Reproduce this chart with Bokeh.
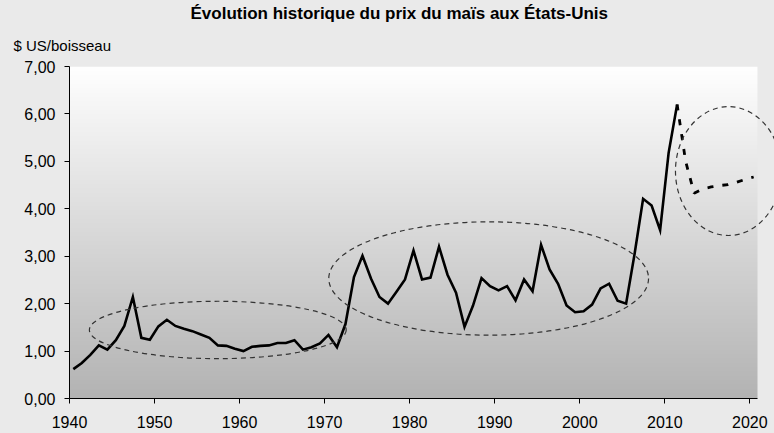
import numpy as np
import pandas as pd
from bokeh.plotting import figure
from bokeh.models import (ColumnDataSource, FixedTicker, CustomJSTickFormatter, Title,
                          Range1d, GlobalInlineStyleSheet)
from bokeh.embed import file_html
from bokeh.resources import INLINE

# ---------------- data ----------------
years = list(range(1940, 2012))
price = [0.62, 0.75, 0.92, 1.12, 1.03, 1.23, 1.53, 2.14, 1.28, 1.24,
         1.52, 1.66, 1.53, 1.47, 1.42, 1.35, 1.28, 1.12, 1.11, 1.05,
         1.00, 1.09, 1.11, 1.12, 1.17, 1.17, 1.23, 1.03, 1.08, 1.16,
         1.34, 1.08, 1.57, 2.56, 3.01, 2.53, 2.14, 2.00, 2.25, 2.51,
         3.12, 2.51, 2.55, 3.20, 2.61, 2.23, 1.51, 1.96, 2.54, 2.37,
         2.28, 2.37, 2.07, 2.51, 2.26, 3.24, 2.72, 2.42, 1.96, 1.82,
         1.84, 1.98, 2.32, 2.42, 2.06, 2.00, 3.05, 4.21, 4.07, 3.55,
         5.18, 6.20]
proj_years = list(range(2011, 2021))
proj_price = [6.20, 5.00, 4.33, 4.42, 4.46, 4.49, 4.51, 4.56, 4.62, 4.67]

x_ticks = [1940, 1950, 1960, 1970, 1980, 1990, 2000, 2010, 2020]
y_ticks = [0, 1, 2, 3, 4, 5, 6, 7]

title_text = "Évolution historique du prix du maïs aux États-Unis"
unit_text = "$ US/boisseau"

# annotation ellipses (centre x, centre y, width in years, height in $)
ell_x = [1957.44, 1989.29, 2017.49]
ell_y = [1.445, 2.53, 4.795]
ell_w = [30.2, 37.6, 12.47]
ell_h = [1.21, 2.39, 2.72]

# ---------------- styling ----------------
FONT = "Liberation Sans"
BG = "#eaeaea"
MID = 0.45  # points sit near mid-year

hist = pd.DataFrame({"year": years, "price": price})
hist["x"] = hist["year"] + MID
proj = pd.DataFrame({"year": proj_years, "price": proj_price})
proj["x"] = proj["year"] + MID
ell = pd.DataFrame({"x": ell_x, "y": ell_y, "w": ell_w, "h": ell_h})

p = figure(width=774, height=433, output_backend="svg", toolbar_location=None,
           x_range=Range1d(1940, 2022.9), y_range=Range1d(0, 7),
           min_border_left=69, min_border_right=0, min_border_bottom=35,
           min_border_top=66)
p.stylesheets = [GlobalInlineStyleSheet(css="html, body { background-color: #eaeaea; }")]
p.background_fill_color = BG
p.border_fill_color = BG
p.outline_line_color = None
p.grid.visible = False

# gradient plot area
n = 256
vals = np.linspace(0xb3, 0xff, n).astype(np.uint8)
img = np.zeros((n, 1), dtype=np.uint32)
view = img.view(dtype=np.uint8).reshape((n, 1, 4))
view[:, 0, 0] = vals
view[:, 0, 1] = vals
view[:, 0, 2] = vals
view[:, 0, 3] = 255
p.image_rgba(image=[img], x=1940, y=0, dw=80.9, dh=7)

p.line("x", "price", source=ColumnDataSource(hist), line_color="black", line_width=2.6,
       line_join="miter")
p.line("x", "price", source=ColumnDataSource(proj), line_color="black", line_width=2.8,
       line_dash="6 9")

p.ellipse("x", "y", width="w", height="h", source=ColumnDataSource(ell),
          fill_color=None, line_color="#333333", line_width=1.2, line_dash="5 4")

# axes
xa = p.xaxis[0]
xa.ticker = FixedTicker(ticks=x_ticks)
xa.bounds = (1940, 2020.9)
xa.minor_tick_line_color = None
xa.major_tick_in = 0
xa.major_tick_out = 5
xa.axis_line_color = "black"
xa.major_tick_line_color = "black"
xa.major_label_text_font = FONT
xa.major_label_text_font_size = "16px"
xa.major_label_text_color = "black"
xa.major_label_standoff = 12

ya = p.yaxis[0]
ya.ticker = FixedTicker(ticks=y_ticks)
ya.bounds = (0, 7)
ya.minor_tick_line_color = None
ya.major_tick_in = 0
ya.major_tick_out = 5
ya.axis_line_color = "black"
ya.major_tick_line_color = "black"
ya.major_label_text_font = FONT
ya.major_label_text_font_size = "16px"
ya.major_label_text_color = "black"
ya.major_label_standoff = 9
ya.formatter = CustomJSTickFormatter(code="return tick.toFixed(2).replace('.', ',');")

t_unit = Title(text=unit_text, align="left", offset=-56, text_font=FONT,
               text_font_size="15px", text_font_style="normal", text_color="black",
               standoff=25)
t_main = Title(text=title_text, align="left", offset=113, text_font=FONT,
               text_font_size="17px", text_font_style="bold", text_color="black",
               standoff=0, padding=(8, 0, 0, 0))
p.add_layout(t_unit, "above")
p.add_layout(t_main, "above")

open("out.html", "w").write(file_html(p, INLINE))
